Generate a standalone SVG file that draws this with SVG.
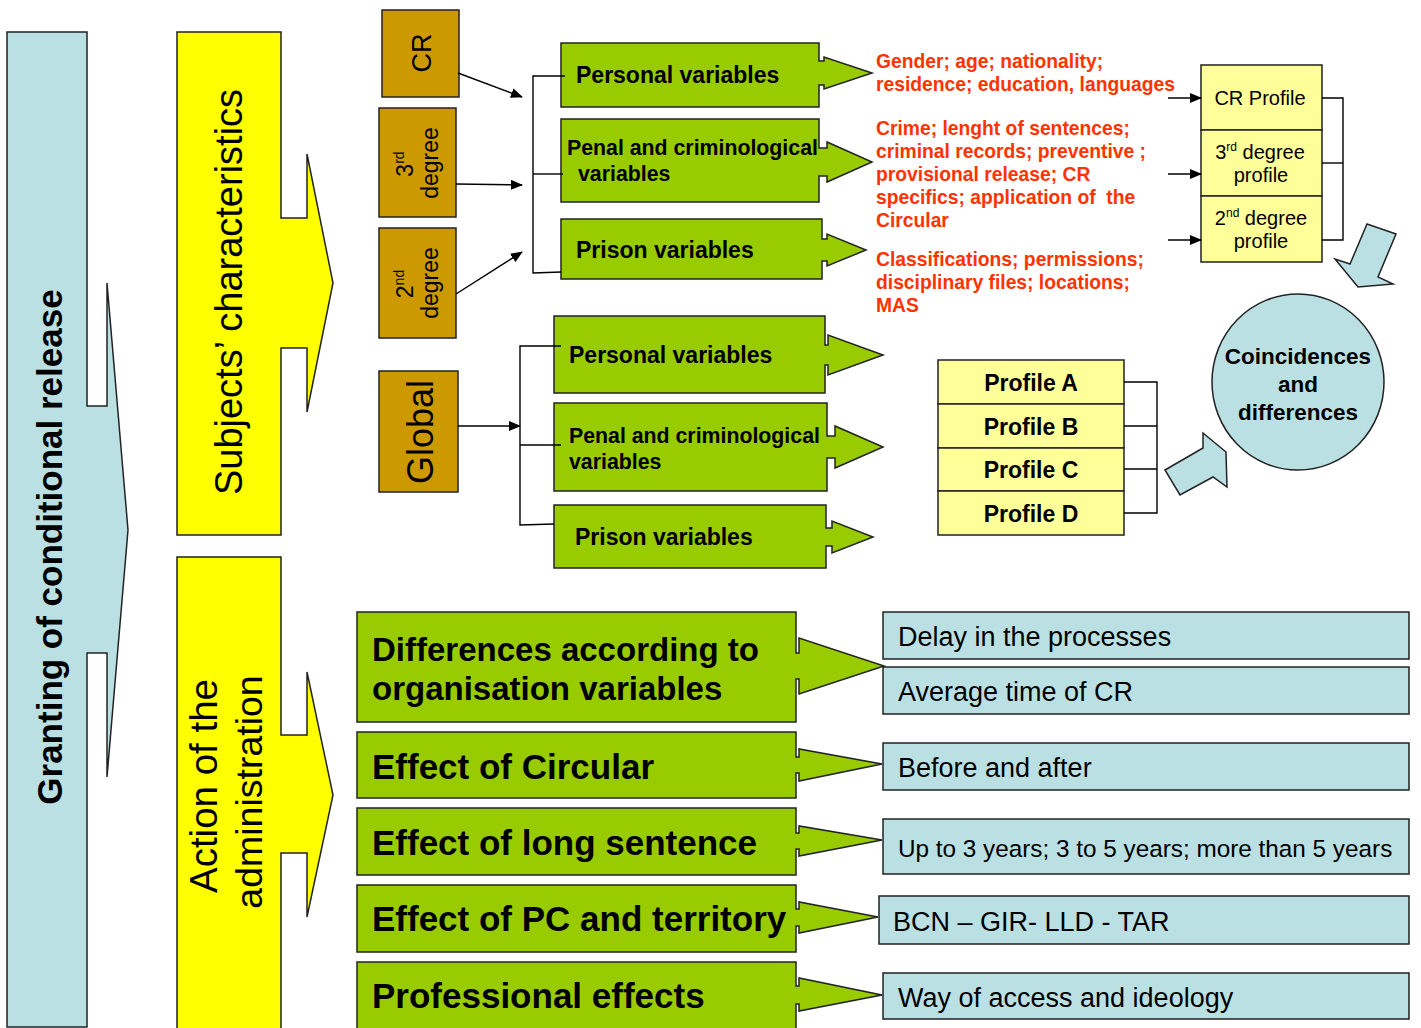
<svg xmlns="http://www.w3.org/2000/svg" width="1421" height="1028" viewBox="0 0 1421 1028">
<defs>
<marker id="ah" markerWidth="12" markerHeight="10" refX="11" refY="5" orient="auto" markerUnits="userSpaceOnUse"><path d="M0,0 L12,5 L0,10 Z" fill="#000"/></marker>
</defs>
<style>
text{font-family:"Liberation Sans",Arial,sans-serif;fill:#000}
.b{font-weight:bold}
.sh{stroke:#222;stroke-width:1.5}
.green{fill:#99CC00}
.teal{fill:#BBE0E3}
.yel{fill:#FFFF00}
.brown{fill:#CC9900}
.ly{fill:#FFFF99}
.red{fill:#FF3300;font-weight:bold;font-size:19.3px}
.ln{fill:none;stroke:#000;stroke-width:1.4}
.gt{font-weight:bold;font-size:23px}
.pt{font-size:20px}
.bt{font-size:27px}
.big{font-weight:bold;font-size:35px}
</style>
<rect width="1421" height="1028" fill="#fff"/>

<g id="granting">
<path class="teal sh" d="M7,32 H87 V406 H107 V283 L128,530 L107,777 V653 H87 V1027 H7 Z"/>
<text class="b" font-size="35" text-anchor="middle" transform="translate(62,547) rotate(-90)">Granting of conditional release</text>
</g>

<g id="subjects">
<path class="yel sh" d="M177,32 H281 V218 H307 V154 L333,283 L307,412 V348 H281 V535 H177 Z"/>
<text font-size="38" text-anchor="middle" transform="translate(242,292) rotate(-90)">Subjects’ characteristics</text>
</g>

<g id="action">
<path class="yel sh" d="M177,557 H281 V735 H307 V672 L333,795 L307,917 V853 H281 V1032 H177 Z"/>
<text font-size="38.5" text-anchor="middle" transform="translate(217,786) rotate(-90)">Action of the</text>
<text font-size="37.5" text-anchor="middle" transform="translate(262,792) rotate(-90)">administration</text>
</g>

<g id="cr">
<rect class="brown sh" x="382" y="10" width="77" height="87"/>
<text font-size="27" text-anchor="middle" transform="translate(431,53) rotate(-90)">CR</text>
</g>
<g id="deg3">
<rect class="brown sh" x="379" y="108" width="77" height="109"/>
<text font-size="23" text-anchor="middle" transform="translate(413,164) rotate(-90)">3<tspan font-size="14" dy="-9">rd</tspan></text>
<text font-size="23" text-anchor="middle" transform="translate(438,163) rotate(-90)">degree</text>
</g>
<g id="deg2">
<rect class="brown sh" x="379" y="228" width="77" height="110"/>
<text font-size="23" text-anchor="middle" transform="translate(413,284) rotate(-90)">2<tspan font-size="14" dy="-9">nd</tspan></text>
<text font-size="23" text-anchor="middle" transform="translate(438,283) rotate(-90)">degree</text>
</g>
<g id="global">
<rect class="brown sh" x="379" y="371" width="79" height="121"/>
<text font-size="36" text-anchor="middle" transform="translate(433,432) rotate(-90)">Global</text>
</g>

<g id="personal1">
<path class="green sh" d="M561,43 H819 V61 H824 V57 L872,73 L824,89 V85 H819 V107 H561 Z"/>
<text class="gt" x="576" y="83">Personal variables</text>
</g>
<g id="penal1">
<path class="green sh" d="M561,119 H819 V148 H827 V142 L872,162 L827,182 V176 H819 V202 H561 Z"/>
<text class="gt" style="font-size:21.3px" x="567" y="155">Penal and criminological</text>
<text class="gt" style="font-size:21.3px" x="578" y="181">variables</text>
</g>
<g id="prison1">
<path class="green sh" d="M561,219 H822 V239 H827 V234 L866,250 L827,266 V261 H822 V279 H561 Z"/>
<text class="gt" x="576" y="258">Prison variables</text>
</g>

<g id="personal2">
<path class="green sh" d="M554,316 H825 V345 H828 V335 L883,355 L828,375 V365 H825 V393 H554 Z"/>
<text class="gt" x="569" y="363">Personal variables</text>
</g>
<g id="penal2">
<path class="green sh" d="M554,403 H827 V436 H835 V426 L883,447 L835,468 V458 H827 V491 H554 Z"/>
<text class="gt" style="font-size:21.3px" x="569" y="443">Penal and criminological</text>
<text class="gt" style="font-size:21.3px" x="569" y="469">variables</text>
</g>
<g id="prison2">
<path class="green sh" d="M554,505 H826 V528 H832 V521 L873,537 L832,553 V546 H826 V568 H554 Z"/>
<text class="gt" x="575" y="545">Prison variables</text>
</g>

<g id="red-personal">
<text class="red" x="876" y="68">Gender; age; nationality;</text>
<text class="red" x="876" y="91">residence; education, languages</text>
</g>
<g id="red-penal">
<text class="red" x="876" y="135">Crime; lenght of sentences;</text>
<text class="red" x="876" y="158">criminal records; preventive ;</text>
<text class="red" x="876" y="181">provisional release; CR</text>
<text class="red" x="876" y="204">specifics; application of&#160; the</text>
<text class="red" x="876" y="227">Circular</text>
</g>
<g id="red-prison">
<text class="red" x="876" y="266">Classifications; permissions;</text>
<text class="red" x="876" y="289">disciplinary files; locations;</text>
<text class="red" x="876" y="312">MAS</text>
</g>

<g id="profiles-cr">
<rect class="ly sh" x="1201" y="65" width="121" height="65"/>
<rect class="ly sh" x="1201" y="130" width="121" height="66"/>
<rect class="ly sh" x="1201" y="196" width="121" height="66"/>
<text class="pt" x="1260" y="105" text-anchor="middle">CR Profile</text>
<text class="pt" x="1260" y="159" text-anchor="middle">3<tspan font-size="12" dy="-8">rd</tspan><tspan dy="8"> degree</tspan></text>
<text class="pt" x="1261" y="182" text-anchor="middle">profile</text>
<text class="pt" x="1261" y="225" text-anchor="middle">2<tspan font-size="12" dy="-8">nd</tspan><tspan dy="8"> degree</tspan></text>
<text class="pt" x="1261" y="248" text-anchor="middle">profile</text>
</g>

<g id="profiles-abcd">
<rect class="ly sh" x="938" y="360" width="186" height="44"/>
<rect class="ly sh" x="938" y="404" width="186" height="44"/>
<rect class="ly sh" x="938" y="448" width="186" height="43"/>
<rect class="ly sh" x="938" y="491" width="186" height="44"/>
<text class="gt" x="1031" y="391" text-anchor="middle">Profile A</text>
<text class="gt" x="1031" y="435" text-anchor="middle">Profile B</text>
<text class="gt" x="1031" y="478" text-anchor="middle">Profile C</text>
<text class="gt" x="1031" y="522" text-anchor="middle">Profile D</text>
</g>

<g id="coincidences">
<ellipse class="teal sh" cx="1298" cy="382" rx="86" ry="88"/>
<text class="b" font-size="22.5" x="1298" y="364" text-anchor="middle">Coincidences</text>
<text class="b" font-size="22.5" x="1298" y="392" text-anchor="middle">and</text>
<text class="b" font-size="22.5" x="1298" y="420" text-anchor="middle">differences</text>
</g>

<g id="teal-arrows">
<polygon class="teal sh" points="1367,224 1396,234 1378,277 1393,284 1358,287 1335,259 1350,264"/>
<polygon class="teal sh" points="1165,470 1203,448 1203,433 1226,452 1227,487 1213,477 1180,495"/>
</g>

<g id="org">
<path class="green sh" d="M357,612 H796 V653 H799 V638 L884,666 L799,694 V679 H796 V722 H357 Z"/>
<text class="b" font-size="33" x="372" y="661">Differences according to</text>
<text class="b" font-size="33" x="372" y="700">organisation variables</text>
</g>
<g id="circular">
<path class="green sh" d="M357,732 H796 V757 H799 V749 L882,764 L799,781 V773 H796 V798 H357 Z"/>
<text class="big" x="372" y="779">Effect of Circular</text>
</g>
<g id="longsentence">
<path class="green sh" d="M357,808 H796 V833 H799 V826 L882,840 L799,856 V849 H796 V875 H357 Z"/>
<text class="big" x="372" y="855">Effect of long sentence</text>
</g>
<g id="pc">
<path class="green sh" d="M357,885 H796 V909 H799 V902 L878,917 L799,933 V926 H796 V952 H357 Z"/>
<text class="big" x="372" y="931">Effect of PC and territory</text>
</g>
<g id="professional">
<path class="green sh" d="M357,962 H796 V986 H799 V978 L882,995 L799,1011 V1004 H796 V1030 H357 Z"/>
<text class="big" x="372" y="1008">Professional effects</text>
</g>

<g id="delay">
<rect class="teal sh" x="883" y="612" width="526" height="47"/>
<text class="bt" x="898" y="646">Delay in the processes</text>
</g>
<g id="average">
<rect class="teal sh" x="883" y="667" width="526" height="47"/>
<text class="bt" x="898" y="701">Average time of CR</text>
</g>
<g id="beforeafter">
<rect class="teal sh" x="883" y="743" width="526" height="47"/>
<text class="bt" x="898" y="777">Before and after</text>
</g>
<g id="years">
<rect class="teal sh" x="883" y="819" width="526" height="55"/>
<text x="898" y="857" style="font-size:24.3px">Up to 3 years; 3 to 5 years; more than 5 years</text>
</g>
<g id="bcn">
<rect class="teal sh" x="879" y="896" width="530" height="48"/>
<text class="bt" x="893" y="931">BCN – GIR- LLD - TAR</text>
</g>
<g id="access">
<rect class="teal sh" x="883" y="973" width="526" height="46"/>
<text class="bt" x="898" y="1007">Way of access and ideology</text>
</g>

<g id="connectors">
<line class="ln" x1="458" y1="73" x2="522" y2="97" marker-end="url(#ah)"/>
<line class="ln" x1="456" y1="184" x2="522" y2="185" marker-end="url(#ah)"/>
<line class="ln" x1="456" y1="294" x2="522" y2="252" marker-end="url(#ah)"/>
<polyline class="ln" points="565,76 533,76 533,273 561,272"/>
<line class="ln" x1="533" y1="174" x2="563" y2="174"/>
<line class="ln" x1="458" y1="426" x2="520" y2="426" marker-end="url(#ah)"/>
<polyline class="ln" points="561,346 520,346 520,525 554,524"/>
<line class="ln" x1="520" y1="445" x2="561" y2="445"/>
<line class="ln" x1="1168" y1="98" x2="1201" y2="98" marker-end="url(#ah)"/>
<line class="ln" x1="1168" y1="174" x2="1201" y2="174" marker-end="url(#ah)"/>
<line class="ln" x1="1168" y1="240" x2="1201" y2="240" marker-end="url(#ah)"/>
<polyline class="ln" points="1322,98 1343,98 1343,240 1322,240"/>
<line class="ln" x1="1322" y1="163" x2="1343" y2="163"/>
<polyline class="ln" points="1124,382 1157,382 1157,513 1124,513"/>
<line class="ln" x1="1124" y1="426" x2="1157" y2="426"/>
<line class="ln" x1="1124" y1="469" x2="1157" y2="469"/>
</g>
</svg>
